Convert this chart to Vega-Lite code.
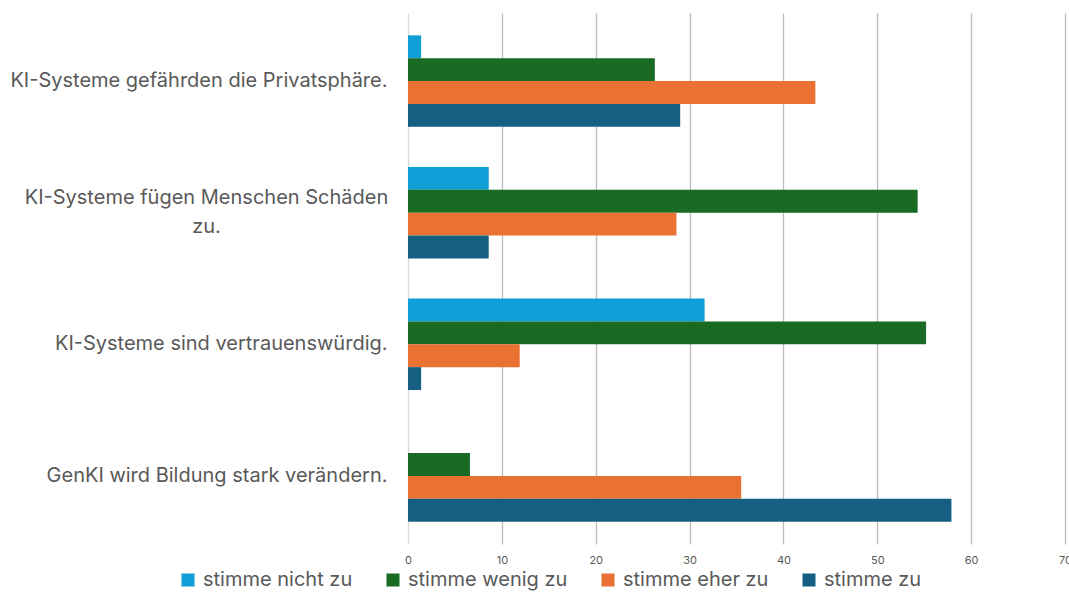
{
  "$schema": "https://vega.github.io/schema/vega-lite/v6.json",
  "width": 657,
  "height": 531,
  "autosize": {"type": "none"},
  "padding": {"left": 408, "top": 13, "right": 4, "bottom": 48},
  "background": "#ffffff",
  "config": {
    "view": {"stroke": null},
    "font": "Inter"
  },
  "data": {
    "values": [
      {"aussage": "KI-Systeme gefährden die Privatsphäre.", "antwort": "stimme nicht zu", "wert": 1.4},
      {"aussage": "KI-Systeme gefährden die Privatsphäre.", "antwort": "stimme wenig zu", "wert": 26.3},
      {"aussage": "KI-Systeme gefährden die Privatsphäre.", "antwort": "stimme eher zu", "wert": 43.4},
      {"aussage": "KI-Systeme gefährden die Privatsphäre.", "antwort": "stimme zu", "wert": 29.0},
      {"aussage": "KI-Systeme fügen Menschen Schäden zu.", "antwort": "stimme nicht zu", "wert": 8.6},
      {"aussage": "KI-Systeme fügen Menschen Schäden zu.", "antwort": "stimme wenig zu", "wert": 54.3},
      {"aussage": "KI-Systeme fügen Menschen Schäden zu.", "antwort": "stimme eher zu", "wert": 28.6},
      {"aussage": "KI-Systeme fügen Menschen Schäden zu.", "antwort": "stimme zu", "wert": 8.6},
      {"aussage": "KI-Systeme sind vertrauenswürdig.", "antwort": "stimme nicht zu", "wert": 31.6},
      {"aussage": "KI-Systeme sind vertrauenswürdig.", "antwort": "stimme wenig zu", "wert": 55.2},
      {"aussage": "KI-Systeme sind vertrauenswürdig.", "antwort": "stimme eher zu", "wert": 11.9},
      {"aussage": "KI-Systeme sind vertrauenswürdig.", "antwort": "stimme zu", "wert": 1.4},
      {"aussage": "GenKI wird Bildung stark verändern.", "antwort": "stimme nicht zu", "wert": 0},
      {"aussage": "GenKI wird Bildung stark verändern.", "antwort": "stimme wenig zu", "wert": 6.6},
      {"aussage": "GenKI wird Bildung stark verändern.", "antwort": "stimme eher zu", "wert": 35.5},
      {"aussage": "GenKI wird Bildung stark verändern.", "antwort": "stimme zu", "wert": 57.9}
    ]
  },
  "mark": {"type": "bar"},
  "encoding": {
    "y": {
      "field": "aussage",
      "type": "nominal",
      "sort": null,
      "scale": {"paddingInner": 0.305, "paddingOuter": 0.17},
      "axis": {
        "title": null,
        "domain": false,
        "ticks": false,
        "labelFontSize": 20,
        "labelColor": "#595959",
        "labelLimit": 0,
        "labelLineHeight": 29,
        "labelExpr": "datum.label == 'KI-Systeme fügen Menschen Schäden zu.' ? ['KI-Systeme fügen Menschen Schäden', 'zu.'] : datum.label",
        "labelAlign": {"condition": {"test": "datum.value == 'KI-Systeme fügen Menschen Schäden zu.'", "value": "center"}, "value": "right"},
        "labelPadding": {"condition": {"test": "datum.value == 'KI-Systeme fügen Menschen Schäden zu.'", "value": 202}, "value": 21},
        "labelOffset": {"condition": {"test": "datum.value == 'KI-Systeme fügen Menschen Schäden zu.'", "value": -15}, "value": 0}
      }
    },
    "yOffset": {
      "field": "antwort",
      "type": "nominal",
      "sort": ["stimme nicht zu", "stimme wenig zu", "stimme eher zu", "stimme zu"],
      "scale": {"paddingInner": 0, "paddingOuter": 0}
    },
    "x": {
      "field": "wert",
      "type": "quantitative",
      "scale": {"domain": [0, 70], "nice": false},
      "axis": {
        "title": null,
        "values": [0, 10, 20, 30, 40, 50, 60, 70],
        "domain": false,
        "ticks": false,
        "grid": true,
        "gridColor": {"condition": {"test": "datum.value == 0", "value": "#d9d9d9"}, "value": "#bcbcbc"},
        "gridWidth": 1.3,
        "labelFontSize": 11,
        "labelColor": "#595959",
        "labelPadding": 10,
        "labelFlush": false
      }
    },
    "color": {
      "field": "antwort",
      "type": "nominal",
      "sort": ["stimme nicht zu", "stimme wenig zu", "stimme eher zu", "stimme zu"],
      "scale": {
        "domain": ["stimme nicht zu", "stimme wenig zu", "stimme eher zu", "stimme zu"],
        "range": ["#0F9ED5", "#196B24", "#E97132", "#156082"]
      },
      "legend": {
        "title": null,
        "orient": "none",
        "direction": "horizontal",
        "legendX": -230,
        "legendY": 557,
        "symbolType": "square",
        "symbolSize": 169,
        "symbolStrokeWidth": 0,
        "labelFontSize": 20,
        "labelColor": "#595959",
        "labelOffset": 5,
        "columnPadding": 30,
        "labelLimit": 0
      }
    }
  }
}
